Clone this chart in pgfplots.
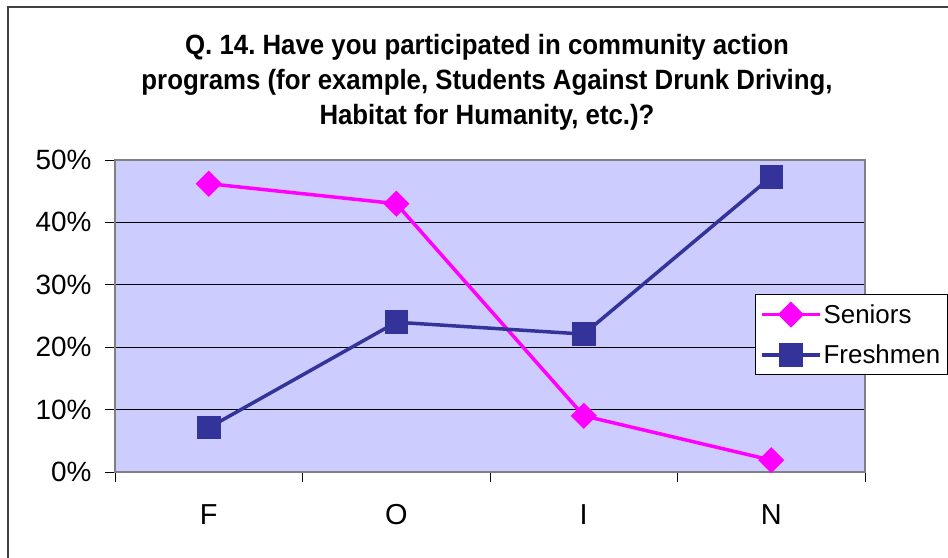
\documentclass[border=0pt]{standalone}
\usepackage{pgfplots}
\pgfplotsset{compat=1.18}
\usepackage{fontspec}
\setmainfont{Liberation Sans}
\newfontfamily\titlefont[FakeStretch=0.925]{Liberation Sans}
\definecolor{plotbg}{HTML}{CCCCFF}
\definecolor{seniors}{HTML}{FF00FF}
\definecolor{freshmen}{HTML}{333399}
\frenchspacing

\begin{document}
\begin{tikzpicture}[x=1bp,y=1bp]
\useasboundingbox (0,0) rectangle (948,558);
% chart frame, cut by the page edges as in the reference
\draw[line width=1.5bp, black!75] (8,-20) rectangle (990,551);
\node[font=\titlefont\bfseries\fontsize{28}{35}\selectfont, align=center] at (487,476)
  {Q. 14. Have you participated in community action\\
   programs (for example, Students Against Drunk Driving,\\
   Habitat for Humanity, etc.)?};
\begin{axis}[
    at={(115bp,86bp)}, anchor=south west,
    scale only axis, width=750bp, height=312bp,
    xmin=-0.5, xmax=3.5, ymin=0, ymax=50,
    axis background/.style={fill=plotbg},
    axis line style={draw=gray, line width=1.2bp},
    xtick={0,1,2,3}, xticklabels={F,O,I,N},
    minor xtick={-0.5,0.5,1.5,2.5,3.5},
    major x tick style={draw=none},
    ytick={0,10,20,30,40,50},
    yticklabels={0\%,10\%,20\%,30\%,40\%,50\%},
    xtick pos=lower, ytick pos=left,
    tick align=outside,
    major tick length=10bp, minor tick length=10bp,
    tick style={black, line width=0.8bp},
    ymajorgrids, grid style={black, line width=0.8bp},
    xticklabel style={font=\fontsize{29}{33}\selectfont, yshift=-19bp},
    yticklabel style={font=\fontsize{28}{32}\selectfont, xshift=-10bp},
    legend style={at={(0.853,0.5705)}, anchor=north west,
      draw=black, line width=0.8bp, fill=white,
      font=\fontsize{26}{30}\selectfont,
      row sep=16bp, inner xsep=5bp, inner ysep=8bp},
    legend cell align=left,
    legend image code/.code={
      \draw[mark repeat=2,mark phase=2,#1] plot coordinates {(0bp,0bp) (29bp,0bp) (58bp,0bp)};
    },
]
\addplot[seniors, line width=3.5bp, mark=square*, mark size=7.5bp,
  mark options={rotate=45, solid}] coordinates {
  (0,46.2) (1,43.0) (2,9.0) (3,1.9)
};
\addlegendentry{Seniors}
\addplot[freshmen, line width=3.5bp, mark=square*, mark size=10bp,
  mark options={solid}] coordinates {
  (0,7.1) (1,24.0) (2,22.1) (3,47.3)
};
\addlegendentry{Freshmen}
\end{axis}
\end{tikzpicture}
\end{document}
